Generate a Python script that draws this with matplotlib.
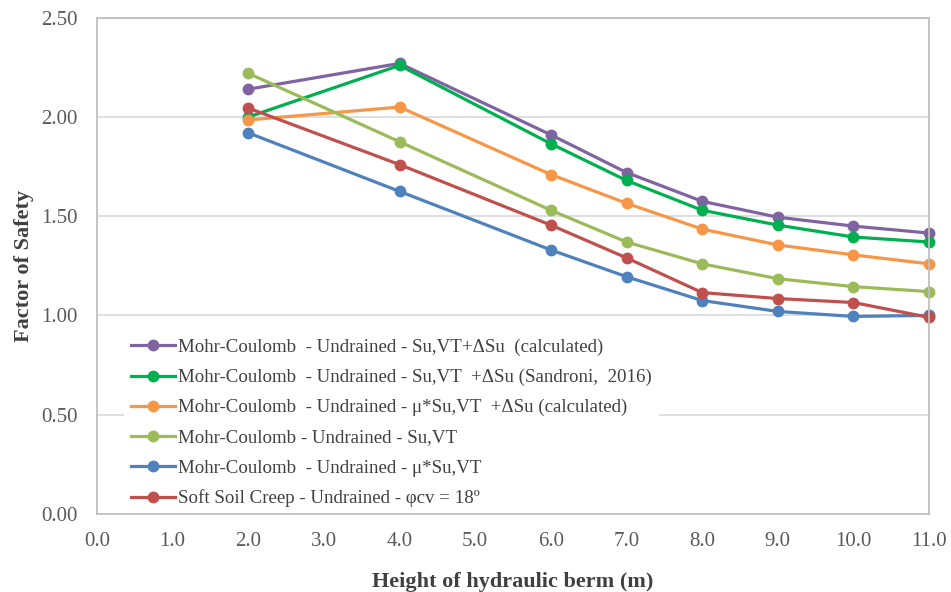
import matplotlib
matplotlib.use('Agg')
import matplotlib.pyplot as plt
from matplotlib.ticker import FormatStrFormatter

plt.rcParams['font.family'] = ['Liberation Serif', 'DejaVu Serif']

# berm height (m)
heights = [2.0, 4.0, 6.0, 7.0, 8.0, 9.0, 10.0, 11.0]

mc_su_dsu_calc = [2.14, 2.27, 1.91, 1.72, 1.575, 1.495, 1.45, 1.415]
mc_su_dsu_sandroni = [2.00, 2.26, 1.865, 1.68, 1.53, 1.455, 1.395, 1.37]
mc_mu_su_dsu_calc = [1.985, 2.05, 1.71, 1.565, 1.435, 1.355, 1.305, 1.26]
mc_su = [2.22, 1.875, 1.53, 1.37, 1.26, 1.185, 1.145, 1.12]
mc_mu_su = [1.92, 1.625, 1.33, 1.195, 1.075, 1.02, 0.995, 1.00]
ssc = [2.045, 1.76, 1.455, 1.29, 1.115, 1.085, 1.065, 0.99]

labels = ['Mohr-Coulomb  - Undrained - Su,VT+\u0394Su  (calculated)',
          'Mohr-Coulomb  - Undrained - Su,VT  +\u0394Su (Sandroni,  2016)',
          'Mohr-Coulomb  - Undrained - \u03bc*Su,VT  +\u0394Su (calculated)',
          'Mohr-Coulomb - Undrained - Su,VT',
          'Mohr-Coulomb  - Undrained - \u03bc*Su,VT',
          'Soft Soil Creep - Undrained - \u03c6cv = 18\u00ba']
series = [mc_su_dsu_calc, mc_su_dsu_sandroni, mc_mu_su_dsu_calc, mc_su, mc_mu_su, ssc]
colors = ['#8064A2', '#00B050', '#F79646', '#9BBB59', '#4F81BD', '#C0504D']

fig = plt.figure(figsize=(9.51, 5.92), dpi=100)
ax = fig.add_axes([0.102, 0.132, 0.875, 0.838])

for ys, lab, c in zip(series, labels, colors):
    ax.plot(heights, ys, color=c, linewidth=2.3, marker='o', markersize=7.5,
            label=lab, clip_on=False)

ax.set_xlim(0, 11)
ax.set_ylim(0, 2.5)
ax.set_xticks(range(0, 12))
ax.set_yticks([0, 0.5, 1.0, 1.5, 2.0, 2.5])
ax.xaxis.set_major_formatter(FormatStrFormatter('%.1f'))
ax.yaxis.set_major_formatter(FormatStrFormatter('%.2f'))
ax.tick_params(length=0, labelsize=15, colors='#595959')
ax.tick_params(axis='x', pad=13)
ax.tick_params(axis='y', pad=14)
ax.grid(axis='y', color='#D9D9D9', linewidth=1.2)
ax.set_axisbelow(True)
for s in ax.spines.values():
    s.set_color('#BFBFBF')
    s.set_linewidth(1.3)
    s.set_zorder(6)

ax.set_xlabel('Height of hydraulic berm (m)', fontsize=16, fontweight='bold',
              color='#404040', labelpad=15)
ax.set_ylabel('Factor of Safety', fontsize=16, fontweight='bold',
              color='#404040', labelpad=5)

leg = ax.legend(loc='lower left', bbox_to_anchor=(0.033, 0.0), fontsize=13.6,
                frameon=True, facecolor='white', edgecolor='none', framealpha=1,
                fancybox=False, handlelength=2.3, handletextpad=0.2,
                labelspacing=0.68, borderpad=0.35, borderaxespad=0)
for t in leg.get_texts():
    t.set_color('#404040')

fig.savefig('out.png', dpi=100)
